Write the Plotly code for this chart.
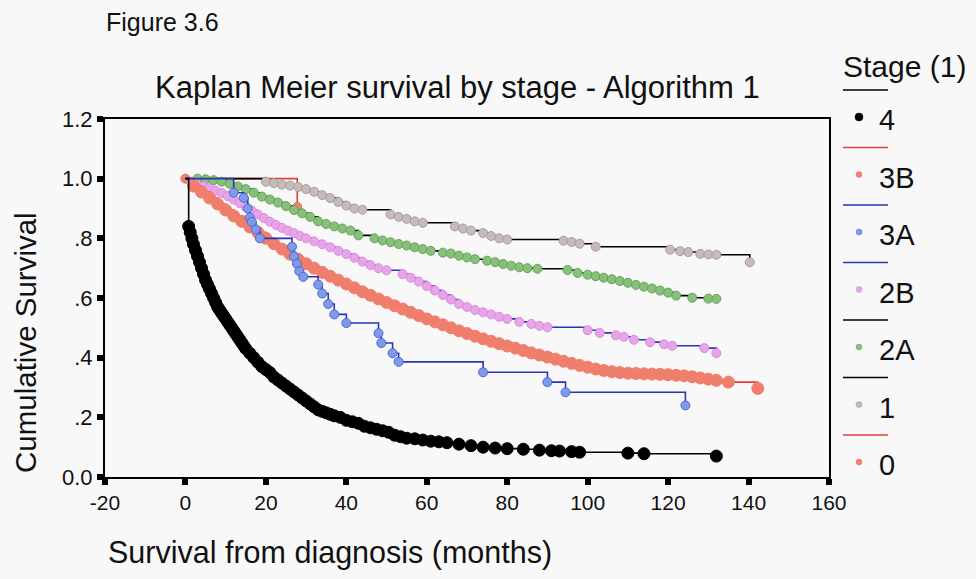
import plotly.graph_objects as go

# ---------------- survival data: months from diagnosis vs cumulative survival ----------------
t_stage4 = [0, 0.8, 1.2, 1.6, 2.0, 2.5, 3.0, 3.5, 4.0, 4.5, 5.0, 5.5, 6.0, 6.5, 7.0, 7.5, 8.0, 8.5,
            9.0, 9.5, 10, 10.5, 11, 11.5, 12, 12.5, 13, 13.5, 14, 14.5, 15, 16, 17, 18, 19, 20, 21,
            22, 23, 24, 25, 26, 27, 28, 29, 30, 31, 32, 33, 34, 35, 36, 37, 38.5, 40, 41.5, 43,
            44.5, 46, 47.5, 49, 50.5, 52, 53.5, 55, 57, 59, 61, 63, 65, 68, 71, 74, 77, 80, 84,
            88, 91, 93, 96, 98, 110, 114, 132]
s_stage4 = [1.0, 0.84, 0.82, 0.80, 0.78, 0.76, 0.74, 0.72, 0.70, 0.68, 0.66, 0.645, 0.63, 0.615,
            0.60, 0.585, 0.57, 0.56, 0.55, 0.54, 0.53, 0.52, 0.51, 0.50, 0.49, 0.48, 0.47, 0.46,
            0.45, 0.44, 0.43, 0.415, 0.40, 0.385, 0.37, 0.36, 0.35, 0.335, 0.325, 0.315, 0.305,
            0.295, 0.285, 0.275, 0.265, 0.255, 0.245, 0.235, 0.225, 0.22, 0.215, 0.21, 0.205,
            0.20, 0.19, 0.185, 0.18, 0.17, 0.165, 0.16, 0.155, 0.15, 0.14, 0.135, 0.13, 0.128,
            0.124, 0.12, 0.118, 0.115, 0.11, 0.105, 0.10, 0.097, 0.095, 0.093, 0.09, 0.088,
            0.087, 0.085, 0.083, 0.08, 0.078, 0.07]

t_stage3b = [0, 2, 4, 6, 8, 10, 12, 14, 16, 18, 20, 22, 24, 26, 28, 30, 32, 34, 36, 38, 40, 42,
             44, 46, 48, 50, 52, 54, 56, 58, 60, 62, 64, 66, 68, 70, 72, 74, 76, 78, 80, 82, 84,
             86, 88, 90, 92, 94, 96, 98, 100, 102, 104, 106, 108, 110, 112, 114, 116, 118, 120,
             122, 124, 126, 128, 130, 132, 135, 142.3]
s_stage3b = [1.0, 0.975, 0.955, 0.935, 0.915, 0.895, 0.875, 0.857, 0.838, 0.82, 0.80, 0.782,
             0.764, 0.747, 0.73, 0.715, 0.70, 0.686, 0.673, 0.66, 0.647, 0.634, 0.621, 0.609,
             0.597, 0.585, 0.574, 0.563, 0.552, 0.541, 0.53, 0.52, 0.51, 0.50, 0.49, 0.481,
             0.472, 0.463, 0.455, 0.447, 0.439, 0.432, 0.424, 0.416, 0.409, 0.402, 0.395, 0.388,
             0.381, 0.374, 0.368, 0.362, 0.357, 0.353, 0.35, 0.348, 0.347, 0.346, 0.345, 0.344,
             0.343, 0.341, 0.339, 0.336, 0.332, 0.328, 0.324, 0.318, 0.297]

t_stage3a = [0, 12.0, 14.5, 15.5, 16.0, 16.5, 17.5, 18.5, 26.5, 27.0, 27.7, 28.3, 29.3, 33.0,
             34.0, 35.5, 37.0, 40.0, 48.0, 48.7, 51.5, 53.0, 74.0, 90.0, 94.5, 124.3]
s_stage3a = [1.0, 0.953, 0.936, 0.90, 0.87, 0.855, 0.83, 0.80, 0.772, 0.74, 0.715, 0.69, 0.671,
             0.645, 0.615, 0.58, 0.545, 0.516, 0.482, 0.449, 0.415, 0.386, 0.351, 0.318, 0.284,
             0.24]

t_stage2b = [0, 1.5, 3, 4.5, 6, 7.5, 9, 10.5, 12, 13.5, 15, 16.5, 18, 19.5, 21, 22.5, 24, 25.5,
             27, 28.5, 30, 32, 34, 36, 38, 40, 42, 44, 46, 48, 50, 54, 56, 58, 60, 62, 64, 66,
             68, 70, 72, 74, 76, 78, 80, 83, 86, 88, 90, 100, 103, 107, 109, 111.5, 115.5, 119,
             121, 129, 132]
s_stage2b = [1.0, 0.99, 0.98, 0.975, 0.968, 0.96, 0.952, 0.942, 0.93, 0.918, 0.905, 0.893, 0.88,
             0.868, 0.856, 0.845, 0.835, 0.826, 0.817, 0.808, 0.80, 0.79, 0.78, 0.77, 0.758,
             0.747, 0.735, 0.722, 0.71, 0.70, 0.693, 0.68, 0.668, 0.655, 0.64, 0.625, 0.61,
             0.595, 0.58, 0.57, 0.56, 0.552, 0.545, 0.537, 0.53, 0.52, 0.513, 0.507, 0.502,
             0.492, 0.483, 0.475, 0.47, 0.46, 0.452, 0.445, 0.44, 0.432, 0.415]

t_stage2a = [0, 3, 5, 7, 9, 11, 13, 15, 17, 19, 21, 23, 25, 27, 29, 31, 33, 35, 37, 39, 41, 43,
             47, 49, 51, 53, 55, 57, 59, 61, 64, 66, 68, 70, 72, 75, 77, 79, 81, 83, 85, 87.5,
             95, 97.5, 100, 102, 104, 106, 108, 110, 112, 114, 116, 118, 120, 122, 126, 130, 132]
s_stage2a = [1.0, 1.0, 0.998, 0.995, 0.99, 0.983, 0.974, 0.965, 0.953, 0.94, 0.93, 0.92, 0.908,
             0.895, 0.884, 0.872, 0.857, 0.848, 0.84, 0.833, 0.826, 0.81, 0.80, 0.793, 0.787,
             0.781, 0.776, 0.77, 0.764, 0.758, 0.752, 0.749, 0.742, 0.736, 0.73, 0.725, 0.72,
             0.714, 0.708, 0.703, 0.70, 0.698, 0.694, 0.684, 0.678, 0.673, 0.668, 0.663, 0.657,
             0.651, 0.644, 0.638, 0.632, 0.625, 0.618, 0.608, 0.601, 0.598, 0.597]

t_stage1 = [0, 20, 22, 24, 26, 28, 30, 32, 34, 36, 38, 40, 42, 44, 51, 53, 55, 57, 59, 67, 69, 71,
            74, 76, 78, 80, 94, 96, 98, 102, 120.5, 123, 125, 128, 130, 132, 140.3]
s_stage1 = [1.0, 0.99, 0.985, 0.98, 0.977, 0.972, 0.965, 0.956, 0.945, 0.935, 0.922, 0.91, 0.90,
            0.896, 0.88, 0.872, 0.865, 0.857, 0.852, 0.84, 0.833, 0.826, 0.818, 0.808, 0.80,
            0.796, 0.792, 0.788, 0.782, 0.772, 0.762, 0.757, 0.754, 0.748, 0.746, 0.745, 0.72]

t_stage0 = [0, 27.8]
s_stage0 = [1.0, 0.905]

stage_labels = ["4", "3B", "3A", "2B", "2A", "1", "0"]
x_tick_values = [-20, 0, 20, 40, 60, 80, 100, 120, 140, 160]
x_tick_text = ["-20", "0", "20", "40", "60", "80", "100", "120", "140", "160"]
y_tick_values = [0.0, 0.2, 0.4, 0.6, 0.8, 1.0, 1.2]
y_tick_text = ["0.0", ".2", ".4", ".6", ".8", "1.0", "1.2"]

# ---------------- styling ----------------
FONT = "Liberation Sans, Arial, Helvetica, sans-serif"
BG = "#f8f8f8"
TXT = "#111111"
W, H = 976, 579
L, R, T, B = 105, 829, 119, 477   # plot-area edges in pixels

styles = {
    "4":  dict(line="#000000", fill="#000000", edge="#000000", size=12, leg=8),
    "3B": dict(line="#e0403c", fill="#f07e6c", edge="#f07e6c", size=12, leg=6),
    "3A": dict(line="#2a36b4", fill="#7e9ae8", edge="#4d68d6", size=9, leg=6),
    "2B": dict(line="#2a36b4", fill="#e8a4e8", edge="#d88cdc", size=9, leg=6),
    "2A": dict(line="#000000", fill="#86c07a", edge="#64a45a", size=9, leg=6),
    "1":  dict(line="#000000", fill="#c6baba", edge="#a89c9c", size=9, leg=6),
    "0":  dict(line="#e0403c", fill="#f08270", edge="#e86c58", size=9, leg=6),
}

series = {
    "4": (t_stage4, s_stage4),
    "3B": (t_stage3b, s_stage3b),
    "3A": (t_stage3a, s_stage3a),
    "2B": (t_stage2b, s_stage2b),
    "2A": (t_stage2a, s_stage2a),
    "1": (t_stage1, s_stage1),
    "0": (t_stage0, s_stage0),
}


def px_x(px):
    return (px - L) / (R - L)


def px_y(py):
    return (B - py) / (B - T)


fig = go.Figure()

# Kaplan-Meier step curves with censor markers
for stage in ["0", "1", "2A", "2B", "3B", "3A", "4"]:
    t, s = series[stage]
    st = styles[stage]
    sizes = [st["size"]] * len(t)
    if stage != "0":
        sizes[0] = 0   # curve starts at 1.0 without a censor mark
    fig.add_trace(go.Scatter(
        x=t, y=s, mode="lines+markers",
        line=dict(shape="hv", color=st["line"], width=1.6),
        marker=dict(size=sizes, opacity=1, color=st["fill"],
                    line=dict(color=st["edge"], width=1)),
        showlegend=False, hoverinfo="skip",
    ))

shapes = []
annotations = []


def label(text, x, y, size, anchor="left", angle=0):
    annotations.append(dict(text=text, x=px_x(x), y=px_y(y), xref="paper", yref="paper",
                            xanchor=anchor, yanchor="middle", textangle=angle, showarrow=False,
                            font=dict(family=FONT, size=size, color=TXT)))


# text outside the plot
label("Figure 3.6", 104, 22, 25)
label("Kaplan Meier survival by stage - Algorithm 1", 457, 88, 31, anchor="center")
label("Survival from diagnosis (months)", 106, 552, 30.5)
label("Cumulative Survival", 25, 343, 29.5, anchor="center", angle=-90)

# legend: title, then for each stage a line sample and a censor marker with its label
label("Stage (1)", 841, 66, 30)
for i, stage in enumerate(stage_labels):
    st = styles[stage]
    ly = 90 + 57.5 * i
    ty = 120 + 57.5 * i
    shapes.append(dict(type="line", xref="paper", yref="paper", x0=px_x(843), x1=px_x(888),
                       y0=px_y(ly), y1=px_y(ly), line=dict(color=st["line"], width=1.6)))
    r = st["leg"] / 2
    shapes.append(dict(type="circle", xref="paper", yref="paper",
                       x0=px_x(859 - r), x1=px_x(859 + r), y0=px_y(ty - 3 + r), y1=px_y(ty - 3 - r),
                       fillcolor=st["fill"], line=dict(color=st["edge"], width=0.5)))
    label(stage, 877, ty, 29)

axis_common = dict(showline=True, linewidth=2, linecolor="#000", mirror=True, showgrid=False,
                   zeroline=False, ticks="outside", tickcolor="#000", ticklen=6, tickwidth=6)

fig.update_layout(
    width=W, height=H,
    margin=dict(l=L, r=W - R, t=T, b=H - B),
    paper_bgcolor=BG, plot_bgcolor=BG,
    xaxis=dict(range=[-20, 160], tickvals=x_tick_values, ticktext=x_tick_text,
               tickfont=dict(family=FONT, size=21, color=TXT), **axis_common),
    yaxis=dict(range=[0, 1.2], tickvals=y_tick_values, ticktext=y_tick_text,
               tickfont=dict(family=FONT, size=22, color=TXT), **axis_common),
    shapes=shapes, annotations=annotations,
)

fig.write_html("out.html")
